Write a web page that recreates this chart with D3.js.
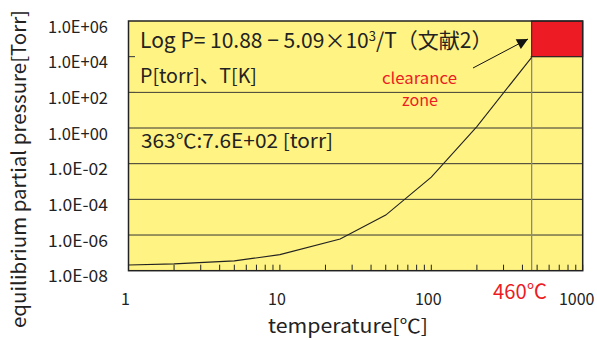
<!DOCTYPE html>
<html>
<head>
<meta charset="utf-8">
<script src="https://cdn.jsdelivr.net/npm/d3@7"></script>
<style>
  body { margin: 0; background: #fff; }
  text { font-family: "Noto Sans CJK JP", "Noto Sans", sans-serif; }
</style>
</head>
<body>
<svg id="chart" width="597" height="340"></svg>
<script>
// temperature [C] and log10 of pressure [torr]
var temps = [1, 2, 5, 10, 25, 50, 100, 200, 460];
var logP = [-7.68, -7.62, -7.45, -7.10, -6.22, -4.88, -2.75, 0.08, 3.96];
var yTicks = [1e-8, 1e-6, 1e-4, 1e-2, 1e0, 1e2, 1e4, 1e6];
var yTickLabels = ["1.0E-08", "1.0E-06", "1.0E-04", "1.0E-02", "1.0E+00", "1.0E+02", "1.0E+04", "1.0E+06"];
var xTicks = [1, 10, 100, 1000];
var limitTemp = 460;
var zone = {x0: 460, x1: 1000, y0: 1e4, y1: 1e6};

drawChart();

function drawChart() {
  var svg = d3.select("#chart");
  var left = 128.5, right = 582.7, top = 21, bottom = 270.7;

  var x = d3.scaleLog().domain([1, 1000]).range([left, right]);
  var y = d3.scaleLog().domain([1e-8, 1e6]).range([bottom, top]);

  // plot background
  svg.append("rect")
    .attr("x", left).attr("y", top)
    .attr("width", right - left).attr("height", bottom - top)
    .attr("fill", "#fff383");

  // horizontal grid lines
  svg.append("g")
    .selectAll("line")
    .data(yTicks.slice(1, -1))
    .enter().append("line")
    .attr("x1", left).attr("x2", right)
    .attr("y1", function(d) { return y(d); })
    .attr("y2", function(d) { return y(d); })
    .attr("stroke", "#333")
    .attr("stroke-width", 1);

  // label box hides the 1e4 grid line
  svg.append("rect")
    .attr("x", 135).attr("y", top + 1)
    .attr("width", x(limitTemp) - 136).attr("height", y(1e2) - top - 2)
    .attr("fill", "#fff383");

  // 460 C vertical line
  svg.append("line")
    .attr("x1", x(limitTemp)).attr("x2", x(limitTemp))
    .attr("y1", y(zone.y0)).attr("y2", bottom)
    .attr("stroke", "#888")
    .attr("stroke-width", 1.3);

  // clearance zone
  svg.append("rect")
    .attr("x", x(zone.x0)).attr("y", y(zone.y1))
    .attr("width", x(zone.x1) - x(zone.x0))
    .attr("height", y(zone.y0) - y(zone.y1))
    .attr("fill", "#ed1c24")
    .attr("stroke", "#222")
    .attr("stroke-width", 1);

  // minor ticks on the bottom axis, pointing inward
  var minor = [];
  [1, 10, 100].forEach(function(dec) {
    for (var k = 2; k <= 10; k++) minor.push(dec * k);
  });
  svg.append("g")
    .selectAll("line")
    .data(minor)
    .enter().append("line")
    .attr("x1", function(d) { return x(d); })
    .attr("x2", function(d) { return x(d); })
    .attr("y1", bottom).attr("y2", bottom - 6)
    .attr("stroke", "#222")
    .attr("stroke-width", 1);

  // curve
  var line = d3.line()
    .x(function(d) { return x(d[0]); })
    .y(function(d) { return y(Math.pow(10, d[1])); });
  svg.append("path")
    .datum(d3.zip(temps, logP))
    .attr("d", line)
    .attr("fill", "none")
    .attr("stroke", "#222")
    .attr("stroke-width", 1.1);

  // frame
  svg.append("rect")
    .attr("x", left).attr("y", top)
    .attr("width", right - left).attr("height", bottom - top)
    .attr("fill", "none")
    .attr("stroke", "#222")
    .attr("stroke-width", 1.5);

  // y tick labels (sit just below their grid line)
  svg.append("g")
    .selectAll("text")
    .data(yTicks)
    .enter().append("text")
    .attr("x", 108)
    .attr("y", function(d) { return y(d) + 11.5; })
    .attr("text-anchor", "end")
    .attr("font-size", 17)
    .attr("textLength", 60)
    .attr("lengthAdjust", "spacingAndGlyphs")
    .attr("fill", "#222")
    .text(function(d, i) { return yTickLabels[i]; });

  // x tick labels
  svg.append("g")
    .selectAll("text")
    .data(xTicks)
    .enter().append("text")
    .attr("x", function(d) { return d === 1000 ? x(d) - 6 : x(d) - 3; })
    .attr("y", 305)
    .attr("text-anchor", "middle")
    .attr("font-size", 16)
    .attr("fill", "#222")
    .text(function(d) { return d; });

  svg.append("text")
    .attr("x", 493).attr("y", 299)
    .attr("font-size", 20)
    .attr("textLength", 54)
    .attr("lengthAdjust", "spacingAndGlyphs")
    .attr("fill", "#ed1c24")
    .text("460℃");

  // axis titles
  svg.append("text")
    .attr("x", 268).attr("y", 333)
    .attr("font-size", 19.5)
    .attr("textLength", 160)
    .attr("lengthAdjust", "spacingAndGlyphs")
    .attr("fill", "#222")
    .text("temperature[℃]");

  svg.append("text")
    .attr("transform", "translate(26,328) rotate(-90)")
    .attr("font-size", 19.5)
    .attr("textLength", 318)
    .attr("lengthAdjust", "spacingAndGlyphs")
    .attr("fill", "#222")
    .text("equilibrium partial pressure[Torr]");

  // annotations
  svg.append("text")
    .attr("x", 140).attr("y", 48)
    .attr("font-size", 21)
    .attr("fill", "#222")
    .html("Log P= 10.88 − 5.09×10<tspan dy='-7' font-size='13'>3</tspan><tspan dy='7'>/T（文献2）</tspan>");

  svg.append("text")
    .attr("x", 140).attr("y", 83)
    .attr("font-size", 19.5)
    .attr("textLength", 117)
    .attr("lengthAdjust", "spacingAndGlyphs")
    .attr("fill", "#222")
    .text("P[torr]、T[K]");

  svg.append("text")
    .attr("x", 141).attr("y", 148)
    .attr("font-size", 19.5)
    .attr("textLength", 192)
    .attr("lengthAdjust", "spacingAndGlyphs")
    .attr("fill", "#222")
    .text("363℃:7.6E+02 [torr]");

  svg.append("text")
    .attr("x", 382).attr("y", 84)
    .attr("font-size", 15.5)
    .attr("textLength", 75)
    .attr("lengthAdjust", "spacingAndGlyphs")
    .attr("fill", "#ed1c24")
    .text("clearance");
  svg.append("text")
    .attr("x", 402).attr("y", 106)
    .attr("font-size", 15.5)
    .attr("textLength", 36)
    .attr("lengthAdjust", "spacingAndGlyphs")
    .attr("fill", "#ed1c24")
    .text("zone");

  // arrow to the zone
  svg.append("defs").append("marker")
    .attr("id", "head")
    .attr("viewBox", "0 0 10 10")
    .attr("refX", 10).attr("refY", 5)
    .attr("markerWidth", 13).attr("markerHeight", 11)
    .attr("markerUnits", "userSpaceOnUse")
    .attr("orient", "auto")
    .append("path")
    .attr("d", "M0,0L10,5L0,10Z")
    .attr("fill", "#111");
  svg.append("line")
    .attr("x1", 473).attr("y1", 68)
    .attr("x2", 528).attr("y2", 39)
    .attr("stroke", "#111")
    .attr("stroke-width", 1)
    .attr("marker-end", "url(#head)");
}
</script>
</body>
</html>
